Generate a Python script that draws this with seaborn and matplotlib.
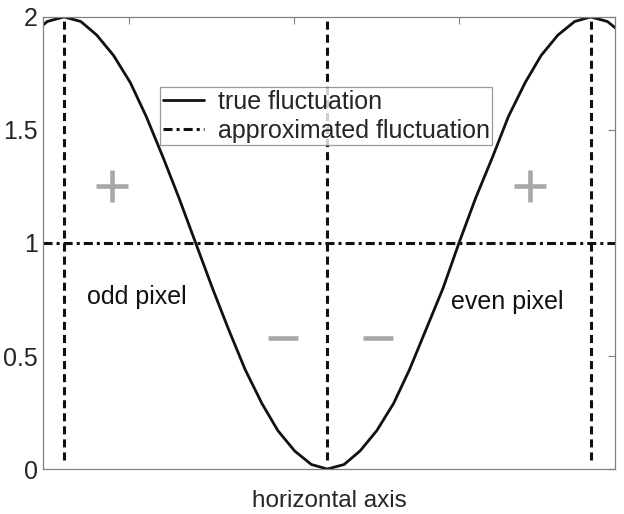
import matplotlib
matplotlib.use('Agg')
import matplotlib.pyplot as plt
import seaborn as sns

# curve samples (phase in radians, fluctuation value)
phase = [-0.39, -0.20, 0.00, 0.20, 0.39, 0.59, 0.79, 0.98, 1.18, 1.37, 1.57, 1.77,
         1.96, 2.16, 2.36, 2.55, 2.75, 2.95, 3.14, 3.34, 3.53, 3.73, 3.93, 4.12,
         4.32, 4.52, 4.71, 4.91, 5.11, 5.30, 5.50, 5.69, 5.89, 6.09, 6.28, 6.48, 6.68]
true_fluct = [1.92, 1.98, 2.00, 1.98, 1.92, 1.83, 1.71, 1.56, 1.38, 1.20, 1.00, 0.80,
              0.62, 0.44, 0.29, 0.17, 0.08, 0.02, 0.00, 0.02, 0.08, 0.17, 0.29, 0.44,
              0.62, 0.80, 1.00, 1.20, 1.38, 1.56, 1.71, 1.83, 1.92, 1.98, 2.00, 1.98, 1.92]
approx_level = 1.0
peak_x = [0.00, 3.14, 6.28]

# annotations
plus_x = [0.57, 5.56]
plus_y = [1.25, 1.25]
minus_x = [2.61, 3.74]
minus_y = [0.58, 0.58]
labels = ['odd pixel', 'even pixel']
label_x = [0.87, 5.28]
label_y = [0.76, 0.74]
xtick_pos = [0.775, 2.742, 4.709]

sns.set_style('white')
plt.rcParams['font.family'] = ['Liberation Sans', 'DejaVu Sans']
plt.rcParams['lines.scale_dashes'] = False

fig = plt.figure(figsize=(6.24, 5.14), dpi=100)
ax = fig.add_axes([0.069, 0.0875, 0.9165, 0.8795])

sns.lineplot(x=phase, y=true_fluct, ax=ax, color='#111111', linewidth=2.0,
             label='true fluctuation', sort=False)
ax.axhline(approx_level, color='#111111', linewidth=2.2, dashes=(6.5, 2.9, 2.2, 2.9),
           label='approximated fluctuation')
ax.vlines(peak_x, 0.04, 2.0, colors='#111111', linewidth=2.2, linestyles=(0, (5.8, 3.6)))

ax.plot(plus_x, plus_y, linestyle='none', marker='+', ms=23, mew=3.3, color='#a8a8a8')
ax.plot(minus_x, minus_y, linestyle='none', marker='_', ms=22, mew=3.3, color='#a8a8a8')
for t, x, y in zip(labels, label_x, label_y):
    ax.text(x, y, t, fontsize=18, ha='center', va='center', color='#111111')

ax.set_xlim(-0.25, 6.57)
ax.set_ylim(0, 2)
ax.set_xticks(xtick_pos)
ax.set_xticklabels([])
ax.set_yticks([0, 0.5, 1, 1.5, 2])
ax.set_yticklabels(['0', '0.5', '1', '1.5', '2'])
ax.tick_params(direction='in', length=5, width=0.8, color='#808080',
               top=True, right=True, labelsize=18, pad=4)
ax.set_xlabel('horizontal axis', fontsize=17.5, labelpad=11)
for s in ax.spines.values():
    s.set_color('#808080')
    s.set_linewidth(0.9)

leg = ax.legend(loc='upper left', bbox_to_anchor=(0.2045, 0.845), borderaxespad=0,
                fontsize=18, frameon=True, fancybox=False, handlelength=1.65,
                handletextpad=0.55, borderpad=0.1, labelspacing=0.2)
leg.get_frame().set_edgecolor('#808080')
leg.get_frame().set_linewidth(0.9)

fig.savefig('out.png', dpi=100)
